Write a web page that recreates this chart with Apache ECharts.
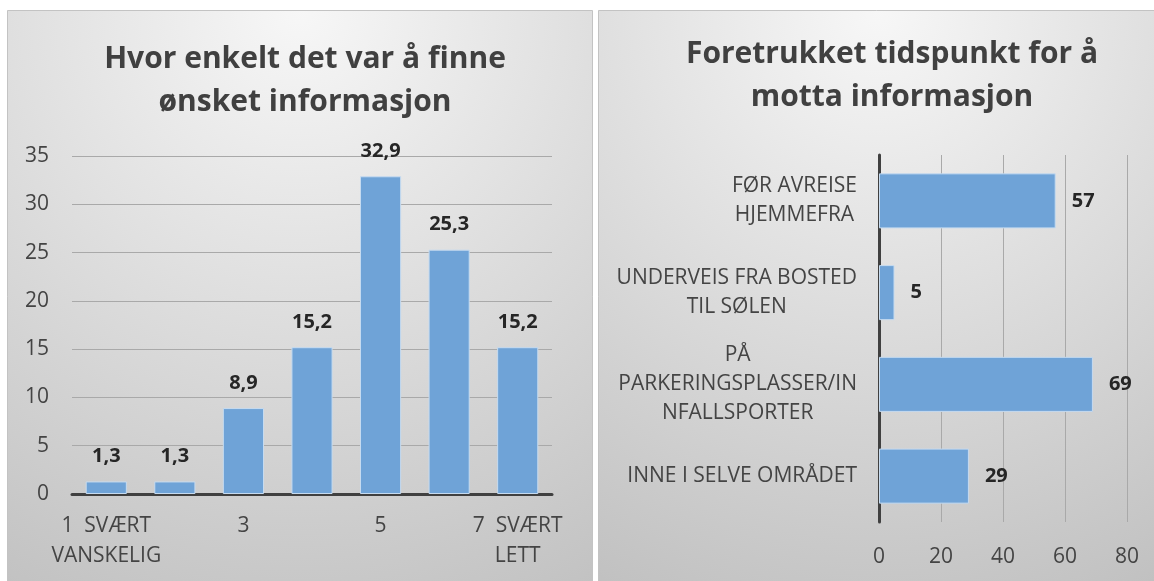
<!DOCTYPE html>
<html><head><meta charset="utf-8">
<script src="https://cdn.jsdelivr.net/npm/echarts@6/dist/echarts.min.js"></script>
<style>html,body{margin:0;padding:0;background:#fff}#c{width:1154px;height:581px}</style>
</head><body><div id="c"></div>
<script>
// ---- data ----
const leftTitle = 'Hvor enkelt det var å finne\nønsket informasjon';
const leftCategories = ['1  SVÆRT\nVANSKELIG', '2', '3', '4', '5', '6', '7  SVÆRT\nLETT'];
const leftValues = [1.3, 1.3, 8.9, 15.2, 32.9, 25.3, 15.2];
const leftTicks = [0, 5, 10, 15, 20, 25, 30, 35];

const rightTitle = 'Foretrukket tidspunkt for å\nmotta informasjon';
const rightCategories = ['FØR AVREISE\nHJEMMEFRA', 'UNDERVEIS FRA BOSTED\nTIL SØLEN', 'PÅ\nPARKERINGSPLASSER/IN\nNFALLSPORTER', 'INNE I SELVE OMRÅDET'];
const rightValues = [57, 5, 69, 29];
const rightTicks = [0, 20, 40, 60, 80];

const FONT = 'Open Sans';
const labelColor = '#444444';
const titleColor = '#404040';
const barColor = '#6fa3d7';
const gridColor = '#a9a9a9';
const AX = 21;

function panelFill() {
  return {
    type: 'radial', x: 0.5, y: 0.0, r: 1.15,
    colorStops: [{offset: 0, color: '#f7f7f7'}, {offset: 1, color: '#c0c0c0'}]
  };
}

const chart = echarts.init(document.getElementById('c'));
chart.setOption({
  animation: false,
  textStyle: {fontFamily: FONT},
  graphic: [
    {type: 'rect', shape: {x: 7.5, y: 10.5, width: 585, height: 580}, style: {fill: panelFill(), stroke: '#c3c3c3', lineWidth: 1}, z: -10},
    {type: 'rect', shape: {x: 598.5, y: 10.5, width: 560, height: 580}, style: {fill: panelFill(), stroke: '#c3c3c3', lineWidth: 1}, z: -10}
  ],
  title: [
    {text: leftTitle, left: 300, top: 33, textAlign: 'center',
     textStyle: {fontFamily: FONT, fontSize: 30, fontWeight: 'bold', color: titleColor, lineHeight: 43}},
    {text: rightTitle, left: 887, top: 28, textAlign: 'center',
     textStyle: {fontFamily: FONT, fontSize: 30, fontWeight: 'bold', color: titleColor, lineHeight: 43}}
  ],
  grid: [
    {left: 72, right: 1154 - 552, top: 156, bottom: 581 - 494},
    {left: 879, right: 1154 - 1127, top: 155, bottom: 581 - 522}
  ],
  xAxis: [
    {type: 'category', gridIndex: 0, data: leftCategories,
     axisLine: {lineStyle: {color: '#404040', width: 3}}, axisTick: {show: false},
     axisLabel: {interval: 1, margin: 17, fontSize: AX, color: labelColor, lineHeight: 30, fontFamily: FONT}},
    {type: 'value', gridIndex: 1, min: rightTicks[0], max: rightTicks[rightTicks.length - 1], interval: 20,
     axisLine: {show: false}, axisTick: {show: false},
     splitLine: {lineStyle: {color: gridColor, width: 1}},
     axisLabel: {margin: 25, fontSize: AX, color: labelColor, fontFamily: FONT}}
  ],
  yAxis: [
    {type: 'value', gridIndex: 0, min: leftTicks[0], max: leftTicks[leftTicks.length - 1], interval: 5,
     axisLine: {show: false}, axisTick: {show: false},
     splitLine: {lineStyle: {color: gridColor, width: 1}},
     axisLabel: {margin: 23, fontSize: AX, color: labelColor, fontFamily: FONT}},
    {type: 'category', gridIndex: 1, data: rightCategories, inverse: true,
     axisLine: {lineStyle: {color: '#404040', width: 3}}, axisTick: {show: false},
     axisLabel: {margin: 22, fontSize: AX, color: labelColor, fontFamily: FONT,
       formatter: function (v) { return v.split('\n').map(function (l) { return '{a|' + l + '}'; }).join('\n'); },
       rich: {a: {align: 'center', fontSize: AX, color: labelColor, lineHeight: 29, fontFamily: FONT}}}}
  ],
  series: [
    {type: 'bar', xAxisIndex: 0, yAxisIndex: 0, data: leftValues, barCategoryGap: '40%',
     itemStyle: {color: barColor, borderColor: '#c6dbf0', borderWidth: 1},
     label: {show: true, position: 'top', distance: 15, fontSize: 20, fontWeight: 'bold', color: '#262626', fontFamily: FONT,
       formatter: function (p) { return String(p.value).replace('.', ','); }}},
    {type: 'bar', xAxisIndex: 1, yAxisIndex: 1, data: rightValues, barCategoryGap: '40%',
     itemStyle: {color: barColor, borderColor: '#c6dbf0', borderWidth: 1},
     label: {show: true, position: 'right', distance: 16, fontSize: 20, fontWeight: 'bold', color: '#262626', fontFamily: FONT}}
  ]
});
</script></body></html>
